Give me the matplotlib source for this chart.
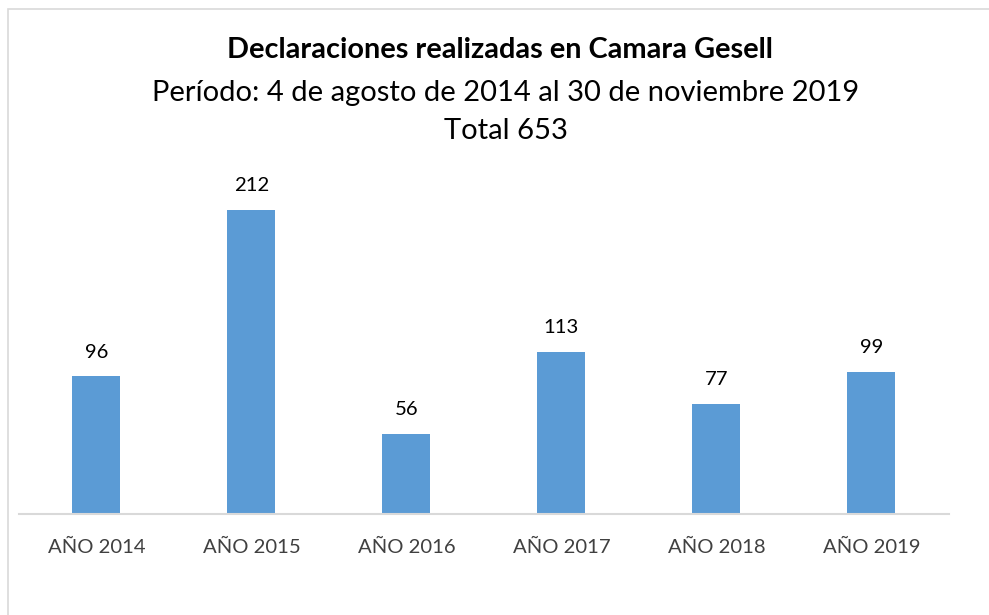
import matplotlib
matplotlib.use("Agg")
import matplotlib.pyplot as plt
from matplotlib.patches import Rectangle

categories = ["AÑO 2014", "AÑO 2015", "AÑO 2016", "AÑO 2017", "AÑO 2018", "AÑO 2019"]
values = [96, 212, 56, 113, 77, 99]

W, H = 989, 615
fig = plt.figure(figsize=(W / 100, H / 100), dpi=100)
plt.rcParams['font.family'] = ['Lato', 'DejaVu Sans']

# outer border
fig.patches.append(Rectangle((8 / W, -0.1), 1.2, 1 - 9 / H + 0.1, transform=fig.transFigure,
                             fill=False, edgecolor='#D9D9D9', linewidth=1.2))

x0, x1 = 19, 949
ybase = 514
ymax = 250
pxu = (514 - 210) / 212.0
ytop = ybase - ymax * pxu
ax = fig.add_axes([x0 / W, 1 - ybase / H, (x1 - x0) / W, (ybase - ytop) / H])

xs = list(range(len(categories)))
ax.bar(xs, values, width=48 / 155, color='#5B9BD5', zorder=2)
for x, v in zip(xs, values):
    ax.text(x, v + 11, str(v), ha='center', va='bottom', fontsize=14.6, color='#000000')

ax.set_xlim(-0.5, len(categories) - 0.5)
ax.set_ylim(0, ymax)
ax.set_xticks(xs)
ax.set_xticklabels(categories, fontsize=14.6, color='#404040')
ax.tick_params(axis='x', length=0, pad=18)
ax.set_yticks([])
for s in ['top', 'right', 'left']:
    ax.spines[s].set_visible(False)
ax.spines['bottom'].set_color('#D9D9D9')
ax.spines['bottom'].set_linewidth(1.5)

fig.text(500 / W, 1 - 50 / H, "Declaraciones realizadas en Camara Gesell", ha='center', va='center',
         fontsize=20.8, fontweight='bold', color='#000000')
fig.text(506 / W, 1 - 93 / H, "Período: 4 de agosto de 2014 al 30 de noviembre 2019", ha='center', va='center',
         fontsize=21, color='#000000')
fig.text(506 / W, 1 - 131 / H, "Total 653", ha='center', va='center', fontsize=21, color='#000000')

fig.savefig("out.png", dpi=100)
